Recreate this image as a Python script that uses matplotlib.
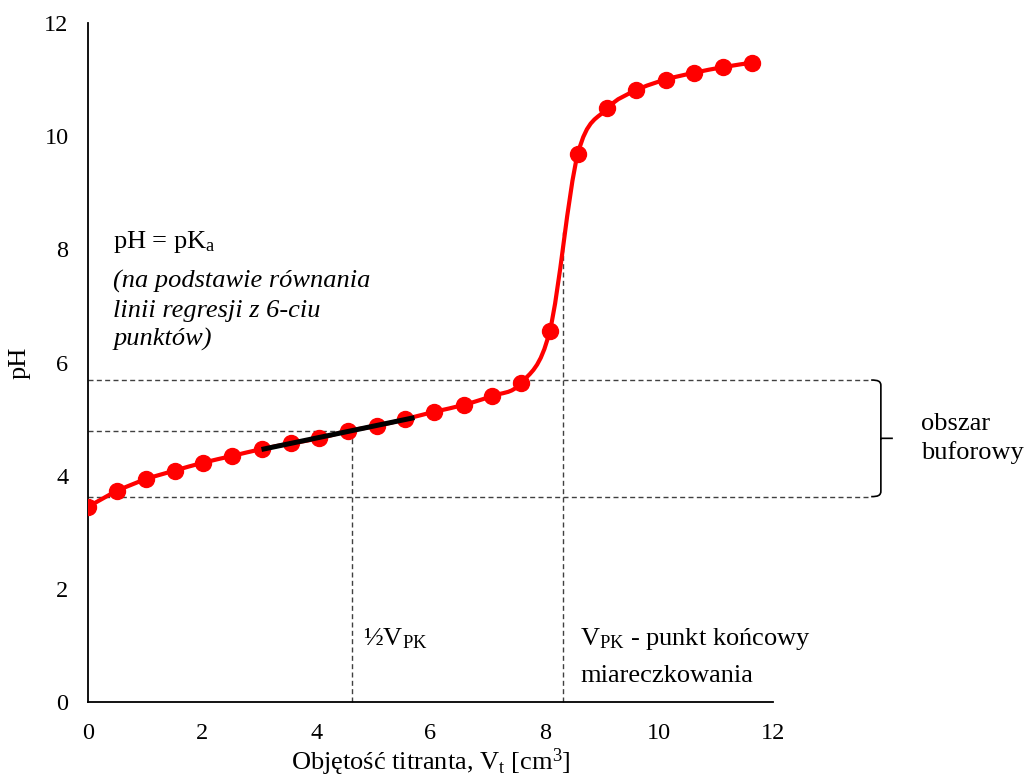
import numpy as np
import matplotlib
matplotlib.use("Agg")
import matplotlib.pyplot as plt
from matplotlib.path import Path
from matplotlib.patches import PathPatch

plt.rcParams["font.family"] = ["Liberation Serif", "DejaVu Serif"]
plt.rcParams["mathtext.default"] = "regular"

# dane miareczkowania
objetosc = [0, 0.51, 1.02, 1.52, 2.02, 2.53, 3.04, 3.55, 4.05, 4.55, 5.06, 5.56,
            6.07, 6.58, 7.08, 7.58, 8.09, 8.58, 9.10, 9.60, 10.12, 10.62, 11.13, 11.64]
ph = [3.45, 3.73, 3.94, 4.09, 4.23, 4.35, 4.47, 4.57, 4.66, 4.79, 4.88, 5.00,
      5.13, 5.25, 5.41, 5.63, 6.56, 9.68, 10.49, 10.81, 11.00, 11.12, 11.22, 11.30]

# punkty charakterystyczne
v_pk = 8.33
ph_pk = 8.3
v_half = 4.62
ph_gora = 5.69
ph_dol = 3.63

x = np.array(objetosc)
y = np.array(ph)

fig = plt.figure(figsize=(10.29, 7.81), dpi=100)
ax = fig.add_axes([0.0855, 0.1011, 0.6657, 0.8695])

#  wygladzona linia (jak w Excelu - krzywe Beziera)
xp = np.concatenate([[x[0]], x, [x[-1]]])
yp = np.concatenate([[y[0]], y, [y[-1]]])
verts = [(x[0], y[0])]
codes = [Path.MOVETO]
for i in range(1, len(x)):
    p0 = np.array([xp[i - 1], yp[i - 1]])
    p1 = np.array([xp[i], yp[i]])
    p2 = np.array([xp[i + 1], yp[i + 1]])
    p3 = np.array([xp[i + 2], yp[i + 2]])
    c1 = p1 + (p2 - p0) / 6
    c2 = p2 - (p3 - p1) / 6
    verts += [tuple(c1), tuple(c2), tuple(p2)]
    codes += [Path.CURVE4] * 3
ax.add_patch(PathPatch(Path(verts, codes), facecolor="none", edgecolor="#FF0000",
                       lw=3, zorder=3))
ax.plot(x, y, "o", color="#FF0000", ms=11.5, zorder=4)

#  linia regresji z 6 punktow
a, b = np.polyfit(x[6:12], y[6:12], 1)
xr = np.array([x[6], x[11] + 0.16])
ax.plot(xr, a * xr + b, color="black", lw=3.6, solid_capstyle="butt", zorder=5)
pka = a * v_half + b

#  linie przerywane
dash = dict(color="#404040", lw=1, ls=(0, (3.6, 2.4)), clip_on=False, zorder=2)
ax.plot([0, 13.72], [ph_gora, ph_gora], **dash)
ax.plot([0, 13.72], [ph_dol, ph_dol], **dash)
ax.plot([0, v_half], [pka, pka], **dash)
ax.plot([v_half, v_half], [0, pka], **dash)
ax.plot([v_pk, v_pk], [0, ph_pk], **dash)

#  klamra
bx = 13.89
bm = (ph_gora + ph_dol) / 2
bv = [(13.72, ph_gora), (13.84, ph_gora), (bx, ph_gora - 0.02), (bx, ph_gora - 0.1),
      (bx, bm + 0.04), (bx, bm), (14.1, bm),
      (bx, bm), (bx, bm - 0.04), (bx, ph_dol + 0.1),
      (bx, ph_dol + 0.02), (13.84, ph_dol), (13.72, ph_dol)]
bc = [Path.MOVETO, Path.CURVE4, Path.CURVE4, Path.CURVE4,
      Path.LINETO, Path.LINETO, Path.LINETO,
      Path.MOVETO, Path.LINETO, Path.LINETO,
      Path.CURVE4, Path.CURVE4, Path.CURVE4]
ax.add_patch(PathPatch(Path(bv, bc), facecolor="none", edgecolor="black", lw=1.2,
                       clip_on=False))

#  opisy
fs = 19
ax.text(0.44, 8.02, "pH = pK$_{a}$", fontsize=fs)
ax.text(0.44, 7.33, "(na podstawie równania", fontsize=fs, style="italic")
ax.text(0.44, 6.81, "linii regresji z 6-ciu", fontsize=fs, style="italic")
ax.text(0.44, 6.30, "punktów)", fontsize=fs, style="italic")
ax.text(4.82, 1.0, "½V$_{PK}$", fontsize=fs)
ax.text(8.62, 1.0, "V$_{PK}$ - punkt końcowy", fontsize=fs)
ax.text(8.62, 0.36, "miareczkowania", fontsize=fs)
ax.text(14.6, bm, "obszar\nbuforowy", fontsize=fs, va="center", linespacing=1.35)

ax.set_xlim(0, 12)
ax.set_ylim(0, 12)
ax.set_xticks(range(0, 13, 2))
ax.set_yticks(range(0, 13, 2))
ax.tick_params(length=0, labelsize=17.5)
ax.tick_params(axis="x", pad=15)
ax.tick_params(axis="y", pad=14)
ax.spines["top"].set_visible(False)
ax.spines["right"].set_visible(False)
ax.spines["left"].set_linewidth(1.3)
ax.spines["bottom"].set_linewidth(1.3)

ax.set_xlabel("Objętość titranta, V$_{t}$ [cm$^{3}$]", fontsize=fs, labelpad=2)
ax.set_ylabel("pH", fontsize=fs, labelpad=10)

fig.savefig("out.png", dpi=100)
